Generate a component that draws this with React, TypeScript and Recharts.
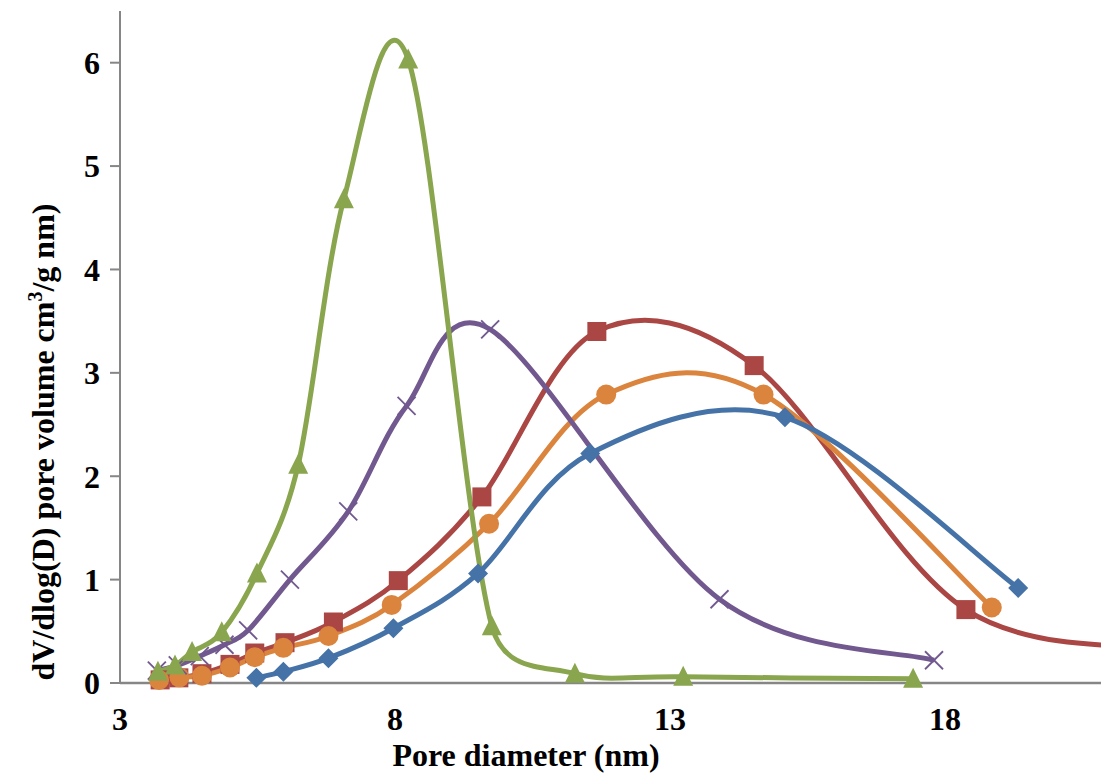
import { LineChart, Line, XAxis, YAxis } from 'recharts';

// pore diameter (nm) / dV/dlog(D), one list per sample
const blueD = [5.48, 5.97, 6.79, 7.97, 9.51, 11.55, 15.09, 19.33];
const blueV = [0.05, 0.11, 0.24, 0.53, 1.06, 2.22, 2.57, 0.92];

const redD = [3.73, 4.07, 4.49, 5.0, 5.45, 6.0, 6.88, 8.06, 9.58, 11.67, 14.53, 18.38, 22.5];
const redV = [0.03, 0.05, 0.09, 0.18, 0.29, 0.39, 0.59, 0.99, 1.8, 3.4, 3.07, 0.71, 0.33];

const greenD = [3.69, 4.0, 4.31, 4.85, 5.49, 6.24, 7.07, 8.24, 9.76, 11.27, 13.24, 17.42];
const greenV = [0.11, 0.17, 0.3, 0.49, 1.06, 2.11, 4.68, 6.03, 0.55, 0.09, 0.06, 0.04];

const purpleD = [3.67, 4.05, 4.45, 4.9, 5.33, 6.09, 7.15, 8.21, 9.73, 13.9, 17.8];
const purpleV = [0.12, 0.17, 0.26, 0.37, 0.51, 1.0, 1.66, 2.68, 3.42, 0.81, 0.22];

const orangeD = [3.71, 4.08, 4.49, 5.0, 5.45, 5.97, 6.79, 7.94, 9.71, 11.84, 14.7, 18.85];
const orangeV = [0.03, 0.055, 0.07, 0.15, 0.25, 0.34, 0.455, 0.755, 1.54, 2.79, 2.79, 0.73];

const xTicks = [3, 8, 13, 18];
const yTicks = [0, 1, 2, 3, 4, 5, 6];

const toRows = (d: number[], v: number[]) => d.map((x, i) => ({ d: x, v: v[i] }));

// Excel-style smoothed line: Catmull-Rom beziers, control arms capped at half the segment
function excelSmooth(context: any) {
  let pts: number[][] = [];
  const arm = (dx: number, dy: number, seg: number) => {
    const len = Math.hypot(dx, dy);
    const max = seg * 0.5;
    const k = len > max && len > 0 ? max / len : 1;
    return [dx * k, dy * k];
  };
  return {
    areaStart() {},
    areaEnd() {},
    lineStart() {
      pts = [];
    },
    lineEnd() {
      if (!pts.length) return;
      context.moveTo(pts[0][0], pts[0][1]);
      for (let i = 0; i < pts.length - 1; i++) {
        const p0 = pts[i - 1] || pts[i];
        const p1 = pts[i];
        const p2 = pts[i + 1];
        const p3 = pts[i + 2] || p2;
        const seg = Math.hypot(p2[0] - p1[0], p2[1] - p1[1]);
        const a = arm((p2[0] - p0[0]) / 6, (p2[1] - p0[1]) / 6, seg);
        const b = arm((p3[0] - p1[0]) / 6, (p3[1] - p1[1]) / 6, seg);
        context.bezierCurveTo(p1[0] + a[0], p1[1] + a[1], p2[0] - b[0], p2[1] - b[1], p2[0], p2[1]);
      }
    },
    point(x: number, y: number) {
      pts.push([+x, +y]);
    },
  };
}

const BLUE = '#4572A7';
const RED = '#AA4643';
const GREEN = '#89A54E';
const PURPLE = '#71588F';
const ORANGE = '#DB843D';

const diamond = (p: any) => (
  <polygon
    key={`b-${p.index}`}
    points={`${p.cx},${p.cy - 10} ${p.cx + 10},${p.cy} ${p.cx},${p.cy + 10} ${p.cx - 10},${p.cy}`}
    fill={BLUE}
  />
);
const square = (p: any) => (
  <rect key={`r-${p.index}`} x={p.cx - 9.5} y={p.cy - 9.5} width={19} height={19} fill={RED} />
);
const triangle = (p: any) => (
  <polygon
    key={`g-${p.index}`}
    points={`${p.cx},${p.cy - 11} ${p.cx + 10},${p.cy + 9} ${p.cx - 10},${p.cy + 9}`}
    fill={GREEN}
  />
);
const cross = (p: any) => (
  <g key={`p-${p.index}`} stroke={PURPLE} strokeWidth={1.8}>
    <line x1={p.cx - 9} y1={p.cy - 9} x2={p.cx + 9} y2={p.cy + 9} />
    <line x1={p.cx - 9} y1={p.cy + 9} x2={p.cx + 9} y2={p.cy - 9} />
  </g>
);
const circle = (p: any) => <circle key={`o-${p.index}`} cx={p.cx} cy={p.cy} r={10} fill={ORANGE} />;

const tickStyle = { fontFamily: 'Liberation Serif', fontWeight: 'bold', fontSize: 32, fill: '#000' };
const titleStyle = {
  position: 'absolute' as const,
  fontFamily: 'Liberation Serif',
  fontWeight: 'bold',
  fontSize: 32,
  whiteSpace: 'nowrap' as const,
  lineHeight: 1,
};

export default function App() {
  return (
    <div style={{ position: 'absolute', left: 0, top: 0, width: 1101, height: 774, background: '#fff' }}>
      <LineChart width={1101} height={774} margin={{ top: 11, right: 0, bottom: 0, left: 0 }}>
        <XAxis
          type="number"
          dataKey="d"
          domain={[3, 20.836]}
          ticks={xTicks}
          allowDataOverflow
          height={91}
          tickLine={false}
          tickSize={12}
          tickMargin={12}
          tick={tickStyle}
          axisLine={{ stroke: '#868686', strokeWidth: 2.5 }}
        />
        <YAxis
          type="number"
          dataKey="v"
          domain={[0, 6.5]}
          ticks={yTicks}
          width={120}
          tickSize={10}
          tickMargin={10}
          tick={tickStyle}
          tickLine={{ stroke: '#868686', strokeWidth: 2 }}
          axisLine={{ stroke: '#868686', strokeWidth: 2 }}
        />
        <Line data={toRows(redD, redV)} dataKey="v" type={excelSmooth as any} stroke={RED} strokeWidth={5} dot={square} activeDot={false} isAnimationActive={false} />
        <Line data={toRows(orangeD, orangeV)} dataKey="v" type={excelSmooth as any} stroke={ORANGE} strokeWidth={5} dot={circle} activeDot={false} isAnimationActive={false} />
        <Line data={toRows(purpleD, purpleV)} dataKey="v" type={excelSmooth as any} stroke={PURPLE} strokeWidth={5} dot={cross} activeDot={false} isAnimationActive={false} />
        <Line data={toRows(greenD, greenV)} dataKey="v" type={excelSmooth as any} stroke={GREEN} strokeWidth={5} dot={triangle} activeDot={false} isAnimationActive={false} />
        <Line data={toRows(blueD, blueV)} dataKey="v" type={excelSmooth as any} stroke={BLUE} strokeWidth={5} dot={diamond} activeDot={false} isAnimationActive={false} />
      </LineChart>
      <div style={{ ...titleStyle, left: 526, top: 755, transform: 'translate(-50%, -50%)' }}>Pore diameter (nm)</div>
      <div style={{ ...titleStyle, left: 42, top: 442, transform: 'translate(-50%, -50%) rotate(-90deg)' }}>
        dV/dlog(D) pore volume cm<sup style={{ fontSize: 20 }}>3</sup>/g nm)
      </div>
    </div>
  );
}
